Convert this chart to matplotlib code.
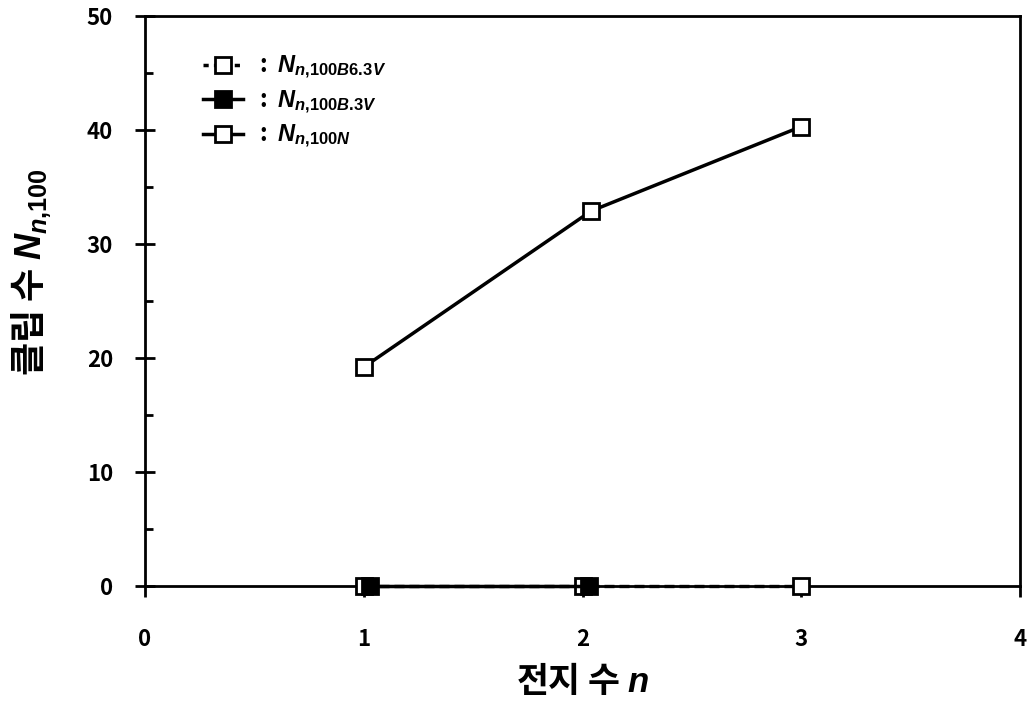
import matplotlib
matplotlib.use("Agg")
import matplotlib.pyplot as plt
from matplotlib.lines import Line2D
from matplotlib.ticker import MultipleLocator

plt.rcParams['font.family'] = ['Noto Sans CJK KR', 'DejaVu Sans']
plt.rcParams['mathtext.fontset'] = 'custom'
plt.rcParams['mathtext.it'] = 'Liberation Sans:bold:italic'
plt.rcParams['mathtext.rm'] = 'Liberation Sans:bold'
plt.rcParams['mathtext.bf'] = 'Liberation Sans:bold'

# Data
x_b63 = [1, 2, 3]
y_b63 = [0, 0, 0]
x_b3 = [1.03, 2.03]
y_b3 = [0, 0]
x_n = [1, 2.04, 3]
y_n = [19.2, 32.9, 40.3]

xticks = [0, 1, 2, 3, 4]
yticks = [0, 10, 20, 30, 40, 50]

fig = plt.figure(figsize=(10.27, 7.10), dpi=100)
ax = fig.add_axes([145/1027, 1-586/710, (1020-145)/1027, (586-16)/710])

ms = 12
mew = 2
ax.plot(x_b63, y_b63, linestyle=(0, (3, 1.5)), color='black', lw=2.4,
        marker='s', markersize=ms, markerfacecolor='white', markeredgecolor='black',
        markeredgewidth=mew, clip_on=False, zorder=3)
ax.plot(x_b3, y_b3, linestyle='-', color='black', lw=2.5,
        marker='s', markersize=ms, markerfacecolor='black', markeredgecolor='black',
        markeredgewidth=mew, clip_on=False, zorder=4)
ax.plot(x_n, y_n, linestyle='-', color='black', lw=2.5,
        marker='s', markersize=ms, markerfacecolor='white', markeredgecolor='black',
        markeredgewidth=mew, clip_on=False, zorder=5)

ax.set_xlim(0, 4)
ax.set_ylim(0, 50)
ax.set_xticks(xticks)
ax.set_yticks(yticks)
ax.yaxis.set_minor_locator(MultipleLocator(5))

for s in ax.spines.values():
    s.set_linewidth(2)

ax.tick_params(axis='y', which='major', direction='inout', length=14, width=2,
               labelsize=16, pad=16)
ax.tick_params(axis='y', which='minor', direction='in', length=6, width=2)
ax.tick_params(axis='x', which='major', direction='out', length=8, width=2,
               labelsize=16, pad=22)
for lab in ax.get_xticklabels() + ax.get_yticklabels():
    lab.set_fontweight('bold')

ax.set_xlabel('전지 수 $\\mathit{n}$', fontsize=25, fontweight='bold', labelpad=8)
ax.set_ylabel('클립 수 $\\mathit{N_{n{,}100}}$', fontsize=26, fontweight='bold')
ax.yaxis.set_label_coords(-0.105, 0.55)

handles = [
    Line2D([], [], linestyle=(0, (1.5, 1.5)), color='black', lw=2.5, marker='s',
           markersize=11, markerfacecolor='white', markeredgecolor='black', markeredgewidth=2),
    Line2D([], [], linestyle='-', color='black', lw=2.5, marker='s',
           markersize=11, markerfacecolor='black', markeredgecolor='black', markeredgewidth=2),
    Line2D([], [], linestyle='-', color='black', lw=2.5, marker='s',
           markersize=11, markerfacecolor='white', markeredgecolor='black', markeredgewidth=2),
]
labels = [
    r':  $\mathit{N_{n{,}100B6.\!3V}}$',
    r':  $\mathit{N_{n{,}100B.\!3V}}$',
    r':  $\mathit{N_{n{,}100N}}$',
]
leg = ax.legend(handles, labels, loc='upper left', bbox_to_anchor=(0.055, 0.95),
                frameon=False, fontsize=17, handlelength=1.7, handletextpad=0.7,
                labelspacing=0.3, borderaxespad=0)
for t in leg.get_texts():
    t.set_fontweight('bold')

fig.savefig('out.png', dpi=100)
